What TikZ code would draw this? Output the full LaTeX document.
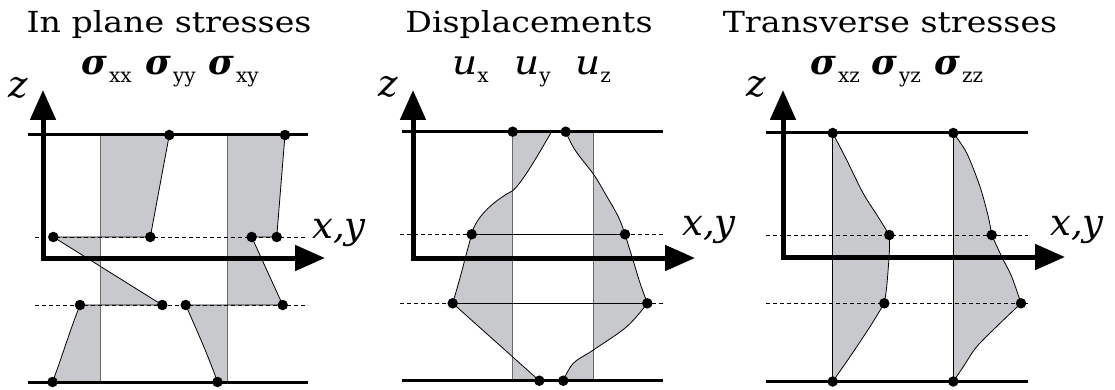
\documentclass[tikz,border=0pt]{standalone}
\usepackage{fontspec}
\setmainfont{DejaVu Serif}
\usetikzlibrary{arrows.meta}
\definecolor{fillg}{RGB}{200,201,204}
\definecolor{colg}{RGB}{105,105,105}
\newcommand\sgm[1]{{\fontsize{35}{35}\selectfont\bfseries\itshape σ}\hspace{2pt}\raisebox{-8pt}{\fontsize{20}{20}\selectfont #1}}
\newcommand\ulab[1]{\scalebox{1.15}[1]{\fontsize{34}{34}\selectfont\itshape u}\hspace{0pt}\raisebox{-8pt}{\fontsize{20}{20}\selectfont #1}}
\newcommand\ttl[1]{\scalebox{1.145}[1]{#1}}
\begin{document}
\begin{tikzpicture}[x=1pt,y=-1pt,
  title/.style={anchor=base, inner sep=0, font=\fontsize{29}{32}\selectfont},
  ax/.style={line width=5pt, line join=miter, {Triangle[length=30pt,width=25pt]}-{Triangle[length=30pt,width=25pt]}},
  plate/.style={line width=3pt},
  mid/.style={line width=0.9pt, dash pattern=on 4pt off 3pt},
  col/.style={line width=1pt, draw=colg},
  prof/.style={line width=0.8pt},
  shade/.style={fill=fillg},
  dot/.style={circle, fill=black, inner sep=0, minimum size=10.5pt},
  axl/.style={font=\fontsize{37}{37}\selectfont\itshape, inner sep=0, anchor=base west},
  lab/.style={anchor=base west, inner sep=0},
]
\useasboundingbox (0,0) rectangle (1115,390);

% ---------------- Titles ----------------
\node[title] (t1) at (169,33) {\ttl{In plane stresses}};
\node[title] (t2) at (529,33) {\ttl{Displacements}};
\node[title] (t3) at (890,33) {\ttl{Transverse stresses}};

% ---------------- Panel 1 ----------------
\coordinate (p1tl) at (28,135);  \coordinate (p1tr) at (308,135);
\coordinate (p1bl) at (28,382);  \coordinate (p1br) at (308,382);
\coordinate (p1d1l) at (35,237); \coordinate (p1d1r) at (308,237);
\coordinate (p1d2l) at (35,305); \coordinate (p1d2r) at (308,305);
\coordinate (p1z) at (43,90);    \coordinate (p1x) at (325,258);
\coordinate (p1c1t) at (100.5,135); \coordinate (p1c1b) at (100.5,382);
\coordinate (p1c2t) at (227,135);   \coordinate (p1c2b) at (227,382);
\coordinate (a1) at (169.3,135); \coordinate (a2) at (150.3,237);
\coordinate (a3) at (53.3,237);  \coordinate (a4) at (162.3,305);
\coordinate (a5) at (80,305);    \coordinate (a6) at (52.5,382);
\coordinate (b1) at (285,135);   \coordinate (b2) at (276.7,237);
\coordinate (b3) at (251.7,237); \coordinate (b4) at (282.7,305);
\coordinate (b5) at (185.7,305); \coordinate (b6) at (217.5,382);

\fill[shade] (p1c1t) -- (a1) -- (a2) -- (a3) -- (a4) -- (a5) .. controls (70,330) and (62,357) .. (a6) -- (p1c1b) -- cycle;
\fill[shade] (p1c2t) -- (b1) -- (b2) -- (b3) -- (b4) -- (b5) .. controls (197,331) and (208,355) .. (b6) -- (p1c2b) -- cycle;
\draw[col] (p1c1t) -- (p1c1b);
\draw[col] (p1c2t) -- (p1c2b);
\draw[mid] (p1d1l) -- (p1d1r);
\draw[mid] (p1d2l) -- (p1d2r);
\draw[prof] (a1) -- (a2) -- (a3) -- (a4) -- (a5) .. controls (70,330) and (62,357) .. (a6);
\draw[prof] (b1) -- (b2) -- (b3) -- (b4) -- (b5) .. controls (197,331) and (208,355) .. (b6);
\draw[plate] (p1tl) -- (p1tr);
\draw[plate] (p1bl) -- (p1br);
\draw[ax] (p1z) |- (p1x);
\foreach \p in {a1,a2,a3,a4,a5,a6,b1,b2,b3,b4,b5,b6} \node[dot] (n\p) at (\p) {};
\node[axl] (z1) at (8,98) {z};
\node[axl] (xy1) at (312,238) {x,y};
\node[lab] (s1) at (81,75) {\sgm{xx}};
\node[lab] (s2) at (145,75) {\sgm{yy}};
\node[lab] (s3) at (208,75) {\sgm{xy}};

% ---------------- Panel 2 ----------------
\coordinate (p2tl) at (402,131.7);  \coordinate (p2tr) at (663,131.7);
\coordinate (p2bl) at (402,380.7);  \coordinate (p2br) at (663,380.7);
\coordinate (p2d1l) at (400,234.3); \coordinate (p2d1r) at (663,234.3);
\coordinate (p2d2l) at (400,303.3); \coordinate (p2d2r) at (663,303.3);
\coordinate (p2z) at (413,90);      \coordinate (p2x) at (695,258);
\coordinate (p2c1t) at (512.7,131.7); \coordinate (p2c1b) at (512.7,380.7);
\coordinate (p2c2t) at (593.5,131.7); \coordinate (p2c2b) at (593.5,380.7);
\coordinate (c0) at (512.7,131.7); \coordinate (c1) at (551.5,131.7);
\coordinate (cx) at (512.7,190.7);
\coordinate (c2) at (471.7,234.3); \coordinate (c3) at (452.7,303.3);
\coordinate (c4) at (539.3,380.7);
\coordinate (d0) at (565.7,131.7); \coordinate (d1) at (625,234.3);
\coordinate (d2) at (647.3,303.3); \coordinate (d3) at (563.3,380.7);

\fill[shade] (c0) -- (c1) .. controls (544,144.7) and (522.7,182.7) .. (cx)
  .. controls (497,199) and (476,215) .. (c2)
  -- plot[smooth] coordinates {(471.7,234.3) (465.5,257) (460,278) (452.7,303.3)} -- (c4) -- (p2c1b) -- cycle;
\fill[shade] (d0) -- plot[smooth,tension=0.6] coordinates {(565.7,131.7) (575,150) (594,175) (605,193.3) (618.3,216.7) (625,234.3)}
  -- plot[smooth] coordinates {(625,234.3) (633,260) (640,283) (647.3,303.3)}
  -- plot[smooth,tension=0.6] coordinates {(647.3,303.3) (626.7,326.7) (593.3,350) (573.3,363.3) (563.3,380.7)}
  -- (p2c2b) -- (p2c2t) -- cycle;
\draw[col] (p2c1t) -- (p2c1b);
\draw[col] (p2c2t) -- (p2c2b);
\draw[mid] (p2d1l) -- (p2d1r);
\draw[mid] (p2d2l) -- (p2d2r);
\draw[prof] (c1) .. controls (544,144.7) and (522.7,182.7) .. (cx)
  .. controls (497,199) and (476,215) .. (c2)
  -- plot[smooth] coordinates {(471.7,234.3) (465.5,257) (460,278) (452.7,303.3)} -- (c4);
\draw[prof] (c2) -- (d1);
\draw[prof] (c3) -- (d2);
\draw[prof] plot[smooth,tension=0.6] coordinates {(565.7,131.7) (575,150) (594,175) (605,193.3) (618.3,216.7) (625,234.3)}
  -- plot[smooth] coordinates {(625,234.3) (633,260) (640,283) (647.3,303.3)}
  -- plot[smooth,tension=0.6] coordinates {(647.3,303.3) (626.7,326.7) (593.3,350) (573.3,363.3) (563.3,380.7)};
\draw[plate] (p2tl) -- (p2tr);
\draw[plate] (p2bl) -- (p2br);
\draw[ax] (p2z) |- (p2x);
\foreach \p in {c0,c2,c3,c4,d0,d1,d2,d3} \node[dot] (n\p) at (\p) {};
\node[axl] (z2) at (378,97) {z};
\node[axl] (xy2) at (682,235) {x,y};
\node[lab] (u1) at (452,75) {\ulab{x}};
\node[lab] (u2) at (514,75) {\ulab{y}};
\node[lab] (u3) at (575,75) {\ulab{z}};

% ---------------- Panel 3 ----------------
\coordinate (p3tl) at (766,133);    \coordinate (p3tr) at (1028.3,133);
\coordinate (p3bl) at (766,381.5);  \coordinate (p3br) at (1028.3,381.5);
\coordinate (p3d1l) at (766,235);   \coordinate (p3d1r) at (1028.3,235);
\coordinate (p3d2l) at (766,303.3); \coordinate (p3d2r) at (1028.3,303.3);
\coordinate (p3z) at (783,90);      \coordinate (p3x) at (1065,257);
\coordinate (e1) at (832.7,133);   \coordinate (e2) at (889.3,235);
\coordinate (e3) at (884.3,303.3); \coordinate (e4) at (832.7,381.5);
\coordinate (f1) at (953.3,133);   \coordinate (f2) at (991.7,235);
\coordinate (f3) at (1021,303.3);  \coordinate (f4) at (953.3,381.5);

\fill[shade] plot[smooth] coordinates {(832.7,133) (846.7,160) (863,193) (878,216.7) (889.3,235)}
  -- plot[smooth] coordinates {(889.3,235) (889.3,253) (886.7,286.7) (884.3,303.3)}
  -- plot[smooth] coordinates {(884.3,303.3) (870,326.7) (850,356.7) (832.7,381.5)} -- cycle;
\fill[shade] plot[smooth] coordinates {(953.3,133) (966.7,153) (980,186.7) (988.3,216.7) (991.7,235)}
  -- plot[smooth] coordinates {(991.7,235) (1001.7,256.7) (1011.7,276.7) (1021,303.3)}
  -- plot[smooth] coordinates {(1021,303.3) (1000,323.3) (976.7,346.7) (963.3,366.7) (953.3,381.5)} -- cycle;
\draw[prof] (e1) -- (e4);
\draw[prof] (f1) -- (f4);
\draw[mid] (p3d1l) -- (p3d1r);
\draw[mid] (p3d2l) -- (p3d2r);
\draw[prof] plot[smooth] coordinates {(832.7,133) (846.7,160) (863,193) (878,216.7) (889.3,235)}
  -- plot[smooth] coordinates {(889.3,235) (889.3,253) (886.7,286.7) (884.3,303.3)}
  -- plot[smooth] coordinates {(884.3,303.3) (870,326.7) (850,356.7) (832.7,381.5)};
\draw[prof] plot[smooth] coordinates {(953.3,133) (966.7,153) (980,186.7) (988.3,216.7) (991.7,235)}
  -- plot[smooth] coordinates {(991.7,235) (1001.7,256.7) (1011.7,276.7) (1021,303.3)}
  -- plot[smooth] coordinates {(1021,303.3) (1000,323.3) (976.7,346.7) (963.3,366.7) (953.3,381.5)};
\draw[plate] (p3tl) -- (p3tr);
\draw[plate] (p3bl) -- (p3br);
\draw[ax] (p3z) |- (p3x);
\foreach \p in {e1,e2,e3,e4,f1,f2,f3,f4} \node[dot] (n\p) at (\p) {};
\node[axl] (z3) at (746,97) {z};
\node[axl] (xy3) at (1050,235) {x,y};
\node[lab] (s4) at (810,75) {\sgm{xz}};
\node[lab] (s5) at (871,75) {\sgm{yz}};
\node[lab] (s6) at (934,75) {\sgm{zz}};
\end{tikzpicture}
\end{document}
